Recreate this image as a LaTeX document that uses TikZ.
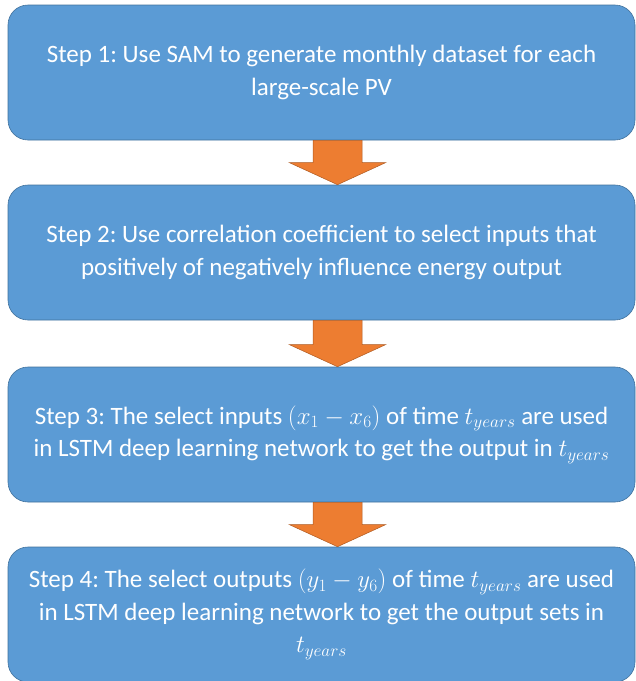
\documentclass[tikz,border=0pt]{standalone}
\usepackage{fontspec}
\setmainfont{Carlito}
\usetikzlibrary{calc}
\definecolor{boxblue}{HTML}{5B9BD5}
\definecolor{boxedge}{HTML}{41719C}
\definecolor{arrorange}{HTML}{ED7D31}
\definecolor{arredge}{HTML}{AE5A21}
\frenchspacing
\begin{document}
\begin{tikzpicture}[x=1pt,y=1pt,
  stepbox/.style={fill=boxblue, draw=boxedge, line width=0.6pt, rounded corners=20pt,
    minimum width=627pt, minimum height=135pt, inner sep=0pt, align=center,
    text=white, font=\fontsize{25}{32.5}\selectfont},
  blockarrow/.style={fill=arrorange, draw=arredge, line width=0.5pt}]
\useasboundingbox (0,0) rectangle (636,-681);
\node[stepbox] (b1) at (321.5,-72.5) {Step 1: Use SAM to generate monthly dataset for each\\large-scale PV};
\node[stepbox] (b2) at (321.5,-252.5) {Step 2: Use correlation coefficient to select inputs that\\positively of negatively influence energy output};
\node[stepbox] (b3) at (321.5,-434.5) {Step 3: The select inputs $(x_1 - x_6)$ of time $t_{years}$ are used\\in LSTM deep learning network to get the output in $t_{years}$};
\node[stepbox] (b4) at (321.5,-614.5) {Step 4: The select outputs $(y_1 - y_6)$ of time $t_{years}$ are used\\in LSTM deep learning network to get the output sets in\\$t_{years}$};
\foreach \a/\b in {b1/b2,b2/b3,b3/b4}{
  \filldraw[blockarrow] ($(\a.south)+(-8.5,0)$) -- ($(\a.south)+(40.5,0)$)
    -- ($(\b.north)+(40.5,22)$) -- ($(\b.north)+(64,22)$) -- ($(\b.north)+(16,0)$)
    -- ($(\b.north)+(-32,22)$) -- ($(\b.north)+(-8.5,22)$) -- cycle;
}
\end{tikzpicture}
\end{document}
